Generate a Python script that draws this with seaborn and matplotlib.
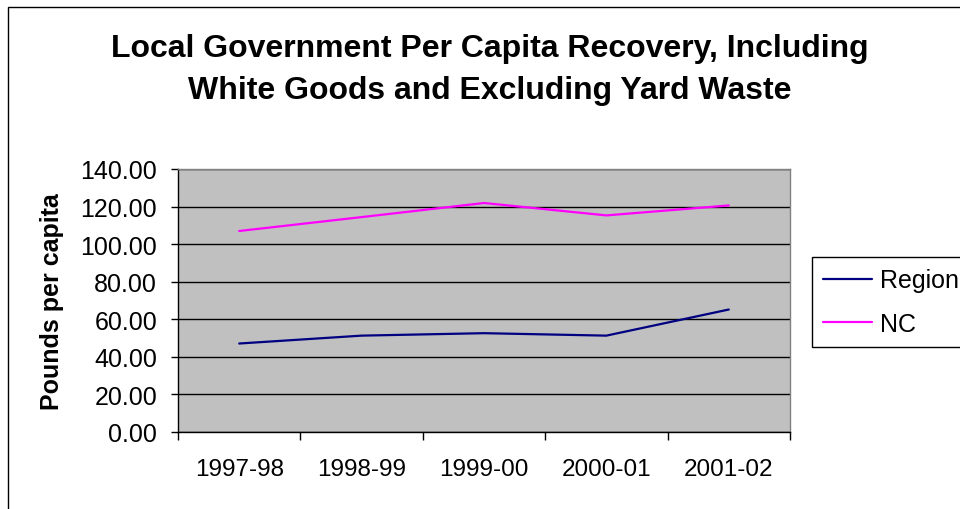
import matplotlib
matplotlib.use("Agg")
import matplotlib.pyplot as plt
from matplotlib.patches import Rectangle
import seaborn as sns
import pandas as pd

years = ["1997-98", "1998-99", "1999-00", "2000-01", "2001-02"]
region = [47.1, 51.3, 52.6, 51.3, 65.2]
nc = [107.0, 114.4, 121.9, 115.3, 120.6]
y_ticks = [0, 20, 40, 60, 80, 100, 120, 140]

df = pd.DataFrame({
    "Year": years * 2,
    "Value": region + nc,
    "Series": ["Region"] * len(years) + ["NC"] * len(years),
})

sns.set_style("white")
plt.rcParams["font.family"] = ["Liberation Sans", "DejaVu Sans"]
plt.rcParams["text.color"] = "black"
plt.rcParams["axes.labelcolor"] = "black"
plt.rcParams["xtick.color"] = "black"
plt.rcParams["ytick.color"] = "black"

fig = plt.figure(figsize=(9.6, 5.1), dpi=100)
ax = fig.add_axes([178 / 960, 1 - 433 / 510, (790 - 178) / 960, (433 - 170) / 510])

sns.lineplot(data=df, x="Year", y="Value", hue="Series",
             palette={"Region": "#000080", "NC": "#FF00FF"},
             linewidth=1.6, ax=ax, legend=False, sort=False)

ax.set_facecolor("#C0C0C0")
ax.set_xlim(-0.5, len(years) - 0.5)
ax.set_ylim(0, 140)
ax.set_yticks(y_ticks)
ax.set_yticklabels([f"{v:.2f}" for v in y_ticks], fontsize=18)
ax.set_xticks(range(len(years)))
ax.set_xticklabels(years, fontsize=17.5)
ax.set_xticks([i - 0.5 for i in range(len(years) + 1)], minor=True)
ax.tick_params(axis="x", which="major", length=0, pad=19)
ax.tick_params(axis="x", which="minor", length=6, width=1, color="black", direction="out", bottom=True)
ax.tick_params(axis="y", which="major", length=5, width=1, color="black", direction="out", left=True, pad=10)
ax.grid(axis="y", color="black", linewidth=1)
ax.set_axisbelow(True)

for side in ("left", "bottom"):
    ax.spines[side].set_color("black")
    ax.spines[side].set_linewidth(1)
for side in ("top", "right"):
    ax.spines[side].set_color("#808080")
    ax.spines[side].set_linewidth(1)

ax.set_xlabel("")
ax.set_ylabel("Pounds per capita", fontsize=18, fontweight="bold", labelpad=12)

fig.text(490 / 960, 1 - 49 / 510, "Local Government Per Capita Recovery, Including",
         ha="center", va="center", fontsize=23, fontweight="bold")
fig.text(490 / 960, 1 - 91 / 510, "White Goods and Excluding Yard Waste",
         ha="center", va="center", fontsize=23, fontweight="bold")

handles = [plt.Line2D([], [], color="#000080", lw=1.6),
           plt.Line2D([], [], color="#FF00FF", lw=1.6)]
leg = fig.legend(handles, ["Region", "NC"], loc="upper left",
                 bbox_to_anchor=(812 / 960, 1 - 258 / 510),
                 fontsize=18, frameon=True, fancybox=False, framealpha=1,
                 edgecolor="black", handlelength=1.95, handletextpad=0.3,
                 borderpad=0.45, labelspacing=0.78, borderaxespad=0)
leg.get_frame().set_linewidth(1)

fig.add_artist(Rectangle((8 / 960, -0.1), 1.0, 1 - 8 / 510 + 0.1, fill=False,
                         edgecolor="black", linewidth=1, transform=fig.transFigure))

fig.savefig("out.png", dpi=100)
